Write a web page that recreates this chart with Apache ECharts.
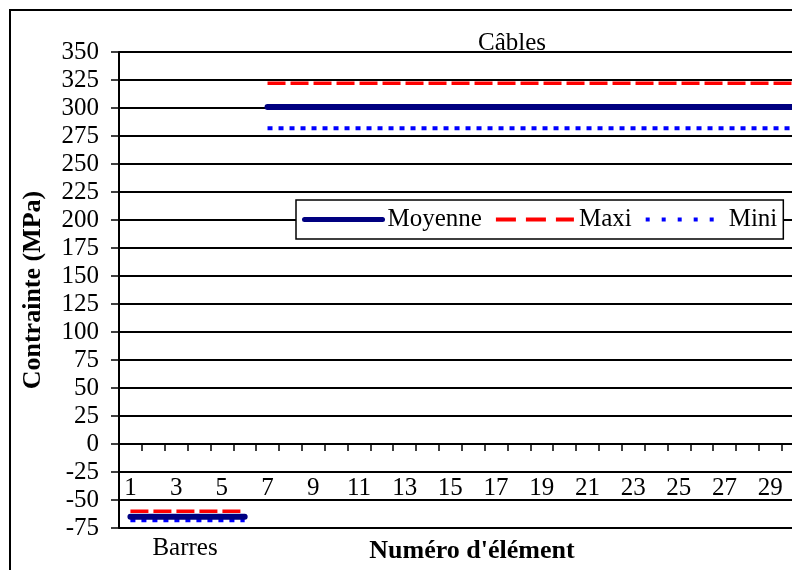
<!DOCTYPE html>
<html>
<head>
<meta charset="utf-8">
<script src="https://cdn.jsdelivr.net/npm/echarts@6/dist/echarts.min.js"></script>
<style>
html,body{margin:0;padding:0;background:#fff;}
#chart{width:792px;height:570px;}
</style>
</head>
<body>
<div id="chart"></div>
<script>
var categories = ['1','2','3','4','5','6','7','8','9','10','11','12','13','14','15','16','17','18','19','20','21','22','23','24','25','26','27','28','29','30'];
var moyenne = [-65,-65,-65,-65,-65,-65,301,301,301,301,301,301,301,301,301,301,301,301,301,301,301,301,301,301,301,301,301,301,301,301];
var maxi = [-60,-60,-60,-60,-60,-60,322,322,322,322,322,322,322,322,322,322,322,322,322,322,322,322,322,322,322,322,322,322,322,322];
var mini = [-68,-68,-68,-68,-68,-68,282,282,282,282,282,282,282,282,282,282,282,282,282,282,282,282,282,282,282,282,282,282,282,282];
var groupBarres = 6; // elements 1..6 are "Barres", the rest "Câbles"
var seriesNames = ['Moyenne','Maxi','Mini'];
var yTitle = 'Contrainte (MPa)';
var xTitle = "Numéro d'élément";

function split(arr){
  var a = arr.map(function(v,i){ return i < groupBarres ? v : null; });
  var b = arr.map(function(v,i){ return i >= groupBarres ? v : null; });
  return [a,b];
}
var FONT = 'Liberation Serif';
var FS = 25;
var styles = [
  {color:'#000080', width:6, type:'solid', cap:'round'},
  {color:'#ff0000', width:3.5, type:[18,5], cap:'butt'},
  {color:'#0000ff', width:4, type:[5,6], cap:'butt'}
];
var legendLine = [
  {color:'#000080', width:5, type:'solid', cap:'round'},
  {color:'#ff0000', width:4, type:[20,10], cap:'butt'},
  {color:'#0000ff', width:4, type:[4,12], cap:'butt'}
];
var dataSets = [moyenne, maxi, mini];
var series = [];
[1,2,0].forEach(function(k){
  var parts = split(dataSets[k]);
  parts.forEach(function(p){
    series.push({
      name: seriesNames[k], type:'line', data:p, symbol:'none', connectNulls:false,
      lineStyle:{color:styles[k].color, width:styles[k].width, type:styles[k].type, cap:styles[k].cap},
      itemStyle:{color:styles[k].color},
      z: k===0 ? 5 : 3,
      animation:false
    });
  });
});

var chart = echarts.init(document.getElementById('chart'), null, {renderer:'canvas'});
chart.setOption({
  animation:false,
  backgroundColor:'#fff',
  grid:{left:119, top:52, width:685.5, height:476, containLabel:false, outerBoundsMode:'none'},
  xAxis:{
    type:'category', data:categories, boundaryGap:true,
    axisLine:{onZero:true, lineStyle:{color:'#000', width:2}},
    axisTick:{show:true, inside:false, length:7, interval:0, lineStyle:{color:'#000', width:1.5}},
    axisLabel:{interval:1, margin:-52, color:'#000', fontFamily:FONT, fontSize:FS},
    splitLine:{show:false}
  },
  yAxis:{
    type:'value', min:-75, max:350, interval:25,
    axisLine:{show:true, onZero:false, lineStyle:{color:'#000', width:2}},
    axisTick:{show:true, length:8, lineStyle:{color:'#000', width:1.5}},
    axisLabel:{margin:20, color:'#000', fontFamily:FONT, fontSize:FS},
    splitLine:{show:true, lineStyle:{color:'#000', width:2}}
  },
  legend:{
    data:seriesNames.map(function(n,i){
      return {name:n, itemStyle:{opacity:0}, lineStyle:{color:legendLine[i].color, width:legendLine[i].width, type:legendLine[i].type, cap:legendLine[i].cap}};
    }),
    left:296, top:200, orient:'horizontal',
    itemWidth:78, itemHeight:14, itemGap:12,
    padding:[7,6,7,6],
    backgroundColor:'#fff', borderColor:'#000', borderWidth:1.5,
    textStyle:{color:'#000', fontFamily:FONT, fontSize:FS}
  },
  graphic:[
    {type:'rect', shape:{x:10, y:10, width:820, height:620}, style:{fill:'none', stroke:'#000', lineWidth:2}, z:-1, silent:true},
    {type:'text', x:512, y:43, style:{text:'Câbles', align:'center', verticalAlign:'middle', fill:'#000', font:FS+'px "Liberation Serif"'}},
    {type:'text', x:185, y:548, style:{text:'Barres', align:'center', verticalAlign:'middle', fill:'#000', font:FS+'px "Liberation Serif"'}},
    {type:'text', x:472, y:551, style:{text:xTitle, align:'center', verticalAlign:'middle', fill:'#000', font:'bold 26px "Liberation Serif"'}},
    {type:'text', rotation:Math.PI/2, x:33, y:290, style:{text:yTitle, align:'center', verticalAlign:'middle', fill:'#000', font:'bold 26px "Liberation Serif"'}}
  ],
  series:series
});
</script>
</body>
</html>
